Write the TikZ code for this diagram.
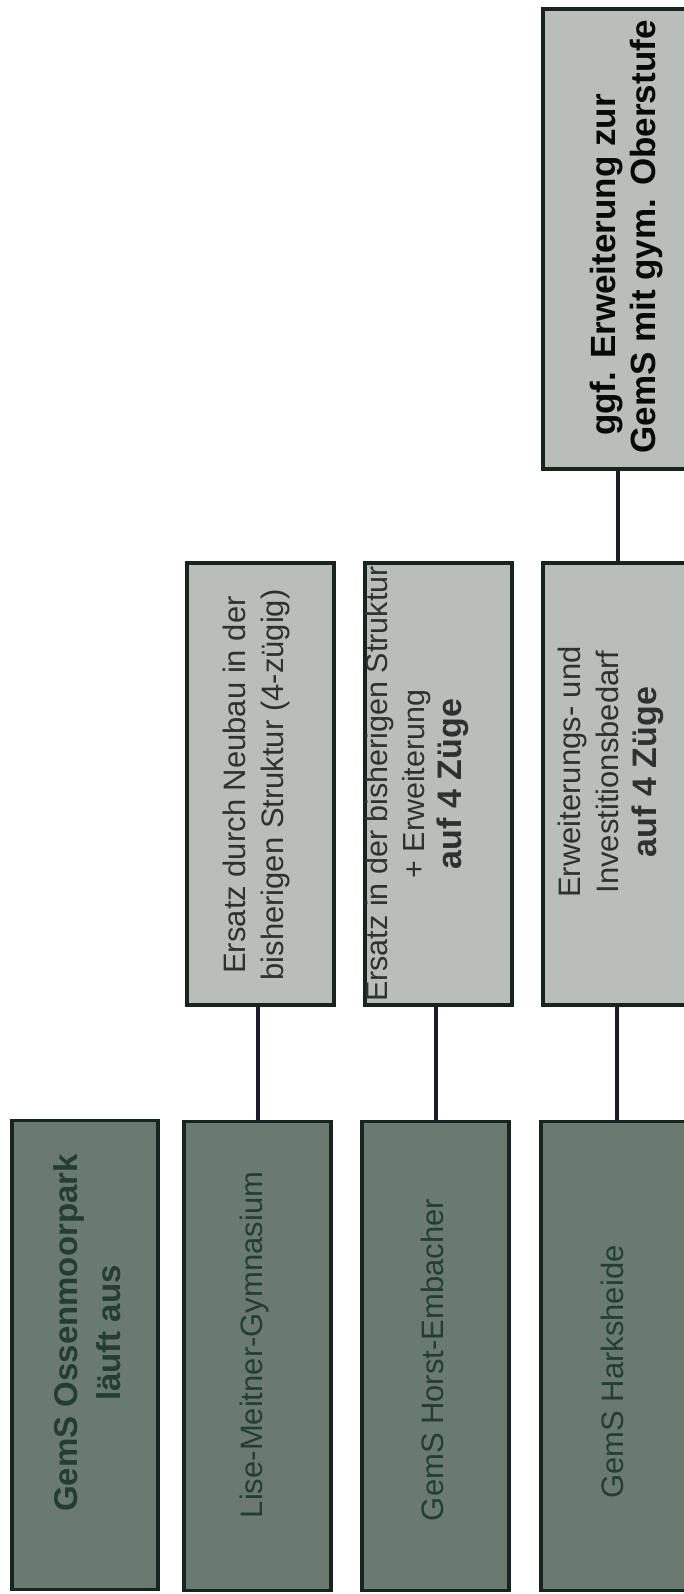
\documentclass[tikz,border=0pt]{standalone}
\usepackage{fontspec}
\setmainfont{Liberation Sans}
\definecolor{darkfill}{RGB}{106,122,112}
\definecolor{darktext}{RGB}{34,62,48}
\definecolor{lightfill}{RGB}{186,190,187}
\definecolor{lighttext}{RGB}{44,50,48}
\definecolor{edgecol}{RGB}{24,36,30}
\definecolor{wirecol}{RGB}{26,26,44}
\begin{document}
\begin{tikzpicture}[x=1pt,y=-1pt,
  darkbox/.style={draw=edgecol,line width=3.5pt,fill=darkfill,inner sep=0pt},
  lightbox/.style={draw=edgecol,line width=3.5pt,fill=lightfill,inner sep=0pt},
  darklabel/.style={rotate=90,align=center,text=darktext,font={\fontsize{31}{40}\selectfont}},
  lightlabel/.style={rotate=90,align=center,text=lighttext,font={\fontsize{31}{38}\selectfont}},
  wire/.style={draw=wirecol,line width=4pt}]
\useasboundingbox (0,0) rectangle (684,1594);
\clip (0,0) rectangle (684,1594);
% bottom row
\node[darkbox,minimum width=146pt,minimum height=469pt] (B1) at (85,1355) {};
\node[darkbox,minimum width=147pt,minimum height=469pt] (B2) at (257.5,1356) {};
\node[darkbox,minimum width=147pt,minimum height=469pt] (B3) at (435.5,1356) {};
\node[darkbox,minimum width=151pt,minimum height=469pt] (B4) at (616.5,1356) {};
% middle row
\node[lightbox,minimum width=147pt,minimum height=442pt] (A2) at (260.5,784) {};
\node[lightbox,minimum width=147pt,minimum height=442pt] (A3) at (438.5,784) {};
\node[lightbox,minimum width=149pt,minimum height=442pt] (A4) at (617.5,784) {};
% top
\node[lightbox,minimum width=149pt,minimum height=460pt] (G) at (617.5,239) {};
% connectors
\draw[wire] (B2.north) -- (B2.north |- A2.south);
\draw[wire] (B3.north) -- (B3.north |- A3.south);
\draw[wire] (B4.north) -- (B4.north |- A4.south);
\draw[wire] (A4.north) -- (A4.north |- G.south);
% labels
\node[darklabel,font={\bfseries\fontsize{33}{43}\selectfont}] (t1) at (87,1333) {GemS Ossenmoorpark\\läuft aus};
\node[darklabel] (t2) at (254,1345) {Lise-Meitner-Gymnasium};
\node[darklabel] (t3) at (432,1360) {GemS Horst-Embacher};
\node[darklabel] (t4) at (612,1372) {GemS Harksheide};
\node[lightlabel] (u2) at (256,785) {Ersatz durch Neubau in der\\bisherigen Struktur (4-zügig)};
\node[lightlabel,font={\fontsize{30.5}{37}\selectfont}] (u3) at (417,784) {Ersatz in der bisherigen Struktur\\+ Erweiterung\\{\bfseries\fontsize{34}{38}\selectfont auf 4 Züge}};
\node[lightlabel] (u4) at (611,772) {Erweiterungs- und\\Investitionsbedarf\\{\bfseries\fontsize{34}{38}\selectfont auf 4 Züge}};
\node[lightlabel,font={\bfseries\fontsize{35}{40}\selectfont},text=black!85!darktext] (g) at (627,237) {ggf. Erweiterung zur\hphantom{\hspace{56pt}}\\GemS mit gym. Oberstufe};
\end{tikzpicture}
\end{document}
